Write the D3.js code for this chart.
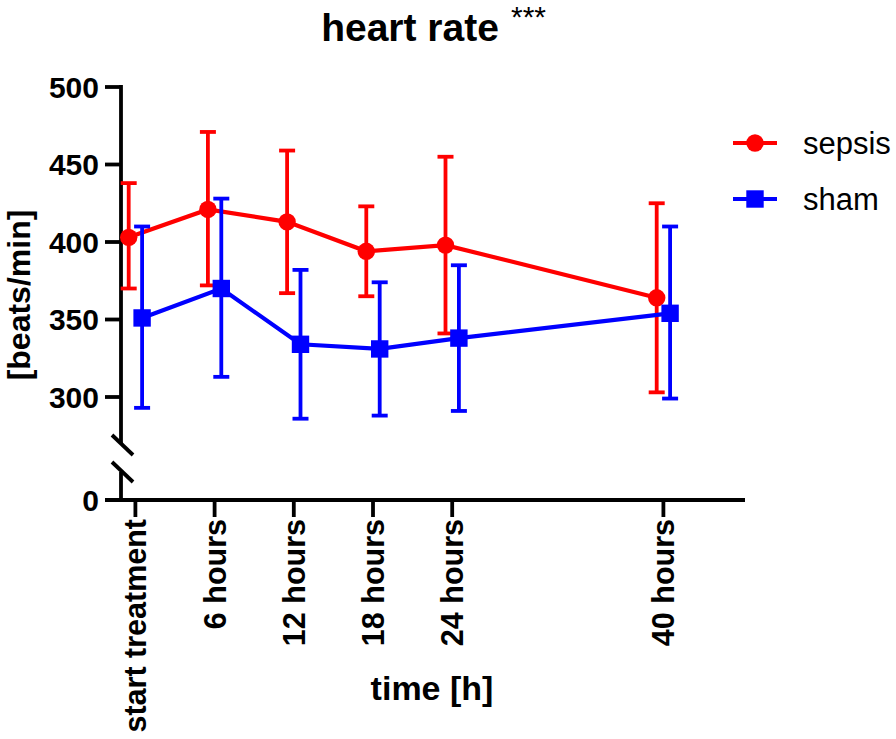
<!DOCTYPE html>
<html>
<head>
<meta charset="utf-8">
<script src="https://cdn.jsdelivr.net/npm/d3@7"></script>
<style>
  html, body { margin: 0; padding: 0; background: #fff; }
  svg { display: block; font-family: "Liberation Sans", Arial, Helvetica, sans-serif; }
</style>
</head>
<body>
<svg id="chart" width="896" height="739"></svg>
<script>
// ---- data ----
const hours = [0, 6, 12, 18, 24, 40];
const tickLabels = ["start treatment", "6 hours", "12 hours", "18 hours", "24 hours", "40 hours"];
const sepsisMean  = [403, 421, 413, 394, 398, 364];
const sepsisUpper = [438, 471, 459, 423, 455, 425];
const sepsisLower = [370, 372, 367, 365, 341, 303];
const shamMean    = [351, 370, 334, 331, 338, 354];
const shamUpper   = [410, 428, 382, 374, 385, 410];
const shamLower   = [293, 313, 286, 288, 291, 299];
const yTicksUpper = [300, 350, 400, 450, 500];
const yTicksLower = [0];
const seriesNames = ["sepsis", "sham"];
const seriesColors = ["#ff0000", "#0000ff"];

// ---- layout ----
const svg = d3.select("#chart");
const axisX = 121, axisY = 500;
const x = d3.scaleLinear().domain([0, 40]).range([135.4, 663.4]);
const yUp = d3.scaleLinear().domain([270, 500]).range([443.5, 87]);
const yLow = d3.scaleLinear().domain([0, 18]).range([500, 472]);
const dodge = [-6.7, 6.7];

// ---- title ----
svg.append("text").attr("x", 410).attr("y", 41).attr("text-anchor", "middle")
  .attr("font-size", 39).attr("font-weight", "bold").text("heart rate");
svg.append("text").attr("x", 511).attr("y", 27)
  .attr("font-size", 30).text("***");

// ---- axes ----
const axisG = svg.append("g").attr("stroke", "#000").attr("stroke-width", 3.8).attr("fill", "none");
axisG.append("line").attr("x1", axisX).attr("x2", axisX).attr("y1", yUp(500) - 1.9).attr("y2", yUp(270));
axisG.append("line").attr("x1", axisX).attr("x2", axisX).attr("y1", yLow(18)).attr("y2", axisY);
// break marks
axisG.append("line").attr("x1", 112).attr("y1", 435).attr("x2", 133).attr("y2", 455);
axisG.append("line").attr("x1", 112).attr("y1", 462).attr("x2", 133).attr("y2", 482);
// x axis line
axisG.append("line").attr("x1", 105).attr("x2", 745).attr("y1", axisY).attr("y2", axisY);

// y ticks
const yTickG = svg.append("g");
yTicksUpper.forEach(v => {
  yTickG.append("line").attr("x1", 105).attr("x2", axisX).attr("y1", yUp(v)).attr("y2", yUp(v))
    .attr("stroke", "#000").attr("stroke-width", 3.8);
  yTickG.append("text").attr("x", 99).attr("y", yUp(v)).attr("dy", "0.36em")
    .attr("text-anchor", "end").attr("font-size", 30).attr("font-weight", "bold").text(v);
});
yTicksLower.forEach(v => {
  yTickG.append("text").attr("x", 99).attr("y", yLow(v)).attr("dy", "0.36em")
    .attr("text-anchor", "end").attr("font-size", 30).attr("font-weight", "bold").text(v);
});

// x ticks
hours.forEach((h, i) => {
  svg.append("line").attr("x1", x(h)).attr("x2", x(h)).attr("y1", axisY).attr("y2", axisY + 17)
    .attr("stroke", "#000").attr("stroke-width", 3.8);
  svg.append("text")
    .attr("transform", `translate(${x(h)},${axisY + 19}) rotate(-90)`)
    .attr("dy", "0.36em").attr("text-anchor", "end")
    .attr("font-size", 30.5).attr("font-weight", "bold").text(tickLabels[i]);
});

// axis titles
svg.append("text").attr("transform", "translate(30,295) rotate(-90)")
  .attr("text-anchor", "middle").attr("font-size", 32).attr("font-weight", "bold").text("[beats/min]");
svg.append("text").attr("x", 432).attr("y", 700).attr("text-anchor", "middle")
  .attr("font-size", 34).attr("font-weight", "bold").text("time [h]");

// ---- series ----
const series = [
  { mean: sepsisMean, up: sepsisUpper, lo: sepsisLower },
  { mean: shamMean, up: shamUpper, lo: shamLower }
];
series.forEach((s, si) => {
  const col = seriesColors[si];
  const g = svg.append("g");
  const pts = hours.map((h, i) => [x(h) + dodge[si], yUp(s.mean[i])]);
  hours.forEach((h, i) => {
    const cx = x(h) + dodge[si];
    g.append("line").attr("x1", cx).attr("x2", cx).attr("y1", yUp(s.up[i])).attr("y2", yUp(s.lo[i]))
      .attr("stroke", col).attr("stroke-width", 3.8);
    [s.up[i], s.lo[i]].forEach(v => {
      g.append("line").attr("x1", cx - 8).attr("x2", cx + 8).attr("y1", yUp(v)).attr("y2", yUp(v))
        .attr("stroke", col).attr("stroke-width", 3.8);
    });
  });
  g.append("path").attr("d", d3.line()(pts)).attr("fill", "none")
    .attr("stroke", col).attr("stroke-width", 4.2);
  pts.forEach(p => {
    if (si === 0) {
      g.append("circle").attr("cx", p[0]).attr("cy", p[1]).attr("r", 8.7).attr("fill", col);
    } else {
      g.append("rect").attr("x", p[0] - 8.7).attr("y", p[1] - 8.7).attr("width", 17.4).attr("height", 17.4).attr("fill", col);
    }
  });
});

// ---- legend ----
const legendY = [143, 199];
seriesNames.forEach((name, i) => {
  const g = svg.append("g");
  const col = seriesColors[i];
  g.append("line").attr("x1", 733).attr("x2", 777).attr("y1", legendY[i]).attr("y2", legendY[i])
    .attr("stroke", col).attr("stroke-width", 4.2);
  if (i === 0) g.append("circle").attr("cx", 755).attr("cy", legendY[i]).attr("r", 8.7).attr("fill", col);
  else g.append("rect").attr("x", 746.3).attr("y", legendY[i] - 8.7).attr("width", 17.4).attr("height", 17.4).attr("fill", col);
  g.append("text").attr("x", 803).attr("y", legendY[i]).attr("dy", "0.36em")
    .attr("font-size", 31).text(name);
});
</script>
</body>
</html>
